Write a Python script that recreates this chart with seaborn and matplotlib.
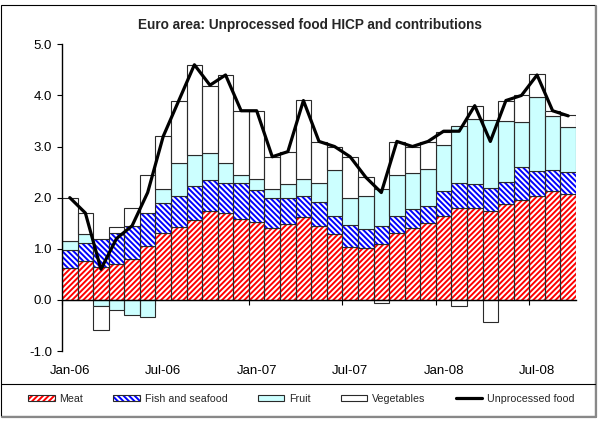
import numpy as np
import pandas as pd
import seaborn as sns
import matplotlib.pyplot as plt
from matplotlib.patches import Patch, Rectangle
from matplotlib.lines import Line2D

months = pd.date_range("2006-01-01", periods=33, freq="MS").strftime("%b-%y").tolist()

# contributions (percentage points)
meat = [0.63, 0.76, 0.65, 0.70, 0.80, 1.05, 1.31, 1.43, 1.57, 1.73, 1.70, 1.59,
        1.53, 1.40, 1.49, 1.62, 1.45, 1.28, 1.04, 1.02, 1.10, 1.31, 1.40, 1.51,
        1.65, 1.79, 1.79, 1.73, 1.87, 1.96, 2.04, 2.13, 2.08]
fish = [0.35, 0.35, 0.54, 0.61, 0.64, 0.64, 0.59, 0.60, 0.65, 0.61, 0.59, 0.70,
        0.62, 0.59, 0.51, 0.41, 0.46, 0.37, 0.43, 0.37, 0.34, 0.34, 0.37, 0.32,
        0.48, 0.50, 0.48, 0.46, 0.44, 0.64, 0.48, 0.42, 0.42]
fruit = [0.17, 0.17, -0.11, -0.20, -0.29, -0.33, 0.26, 0.64, 0.61, 0.54, 0.38, 0.15,
         0.22, 0.18, 0.26, 0.34, 0.37, 0.90, 0.53, 0.65, 0.72, 0.79, 0.72, 0.73,
         0.90, 1.12, 1.26, 1.33, 1.19, 0.88, 1.44, 1.04, 0.88]
vegetables = [0.84, 0.42, -0.48, 0.11, 0.36, 0.75, 1.04, 1.23, 1.77, 1.31, 1.73, 1.25,
              1.32, 0.63, 0.64, 1.54, 0.81, 0.44, 0.80, 0.37, -0.07, 0.65, 0.50, 0.53,
              0.26, -0.12, 0.26, -0.43, 0.40, 0.52, 0.45, 0.11, 0.23]
unprocessed = [2.0, 1.7, 0.6, 1.2, 1.45, 2.1, 3.2, 3.9, 4.6, 4.2, 4.4, 3.7,
               3.7, 2.8, 2.9, 3.9, 3.1, 3.0, 2.8, 2.4, 2.1, 3.1, 3.0, 3.1,
               3.3, 3.3, 3.8, 3.1, 3.9, 4.0, 4.4, 3.7, 3.6]

tick_pos = [0, 6, 12, 18, 24, 30]
tick_labels = [months[i] for i in tick_pos]

sns.set_style("white")
plt.rcParams["font.family"] = ["Liberation Sans", "DejaVu Sans"]
plt.rcParams["hatch.linewidth"] = 1.4

fig = plt.figure(figsize=(5.98, 4.21), dpi=100)
ax = fig.add_axes([62 / 598, 1 - 351 / 421, 514 / 598, (351 - 44.3) / 421])

x = np.arange(len(months))
layers = [
    ("Meat", meat, "white", "#FF0000", "/" * 6),
    ("Fish and seafood", fish, "white", "#0000FF", "\\" * 6),
    ("Fruit", fruit, "#CCFFFF", "none", None),
    ("Vegetables", vegetables, "white", "none", None),
]
outline = "#2a2a2a"

pos_base = np.zeros(len(x))
neg_base = np.zeros(len(x))
handles = []
for name, vals, face, hcol, hatch in layers:
    v = np.asarray(vals)
    bottom = np.where(v >= 0, pos_base, neg_base)
    sns.barplot(x=x, y=v, bottom=bottom, native_scale=True, width=1,
                color=face, saturation=1, errorbar=None,
                facecolor=face, edgecolor=hcol, hatch=hatch, linewidth=0, ax=ax)
    sns.barplot(x=x, y=v, bottom=bottom, native_scale=True, width=1,
                color=face, saturation=1, errorbar=None,
                facecolor="none", edgecolor=outline, linewidth=0.8, ax=ax)
    pos_base += np.clip(v, 0, None)
    neg_base += np.clip(v, None, 0)
    handles.append((Patch(facecolor=face, edgecolor=hcol, hatch=hatch, linewidth=0),
                    Patch(facecolor="none", edgecolor=outline, linewidth=0.8)))

sns.lineplot(x=x, y=unprocessed, color="black", linewidth=2.3, sort=False,
             ax=ax, zorder=4)
handles.append(Line2D([], [], color="black", linewidth=2.3))

ax.set_xlim(-0.5, len(x) - 0.5)
ax.set_ylim(-1, 5)
ax.set_yticks(np.arange(-1, 5.01, 1))
ax.set_yticklabels([f"{t:.1f}" for t in np.arange(-1, 5.01, 1)])
ax.set_xticks(tick_pos, tick_labels)
ax.set_xticks(np.array(tick_pos) - 0.5, minor=True)
ax.set_xlabel("")
ax.set_ylabel("")

for s in ["top", "right"]:
    ax.spines[s].set_visible(False)
ax.spines["left"].set_color("black")
ax.spines["left"].set_linewidth(1)
ax.spines["bottom"].set_position(("data", 0))
ax.spines["bottom"].set_color("black")
ax.spines["bottom"].set_linewidth(1)
ax.spines["bottom"].set_zorder(3)

ax.tick_params(axis="y", left=True, direction="out", length=3.6, width=0.8,
               color="black", labelsize=9.5, pad=3.5, labelcolor="black")
ax.tick_params(axis="x", which="major", bottom=True, length=0, labelsize=9.5,
               pad=47, labelcolor="black")
ax.tick_params(axis="x", which="minor", bottom=True, direction="out", length=3.6,
               width=0.8, color="black")

fig.text(310 / 598, 1 - 25 / 421, "Euro area: Unprocessed food HICP and contributions",
         ha="center", va="center", fontsize=9.8, fontweight="bold")

names = [l[0] for l in layers] + ["Unprocessed food"]
fig.legend(handles, names, loc="center left", bbox_to_anchor=(28 / 598, 1 - 399 / 421),
           ncol=5, frameon=False, fontsize=7.7, handlelength=2.5, handleheight=0.55,
           handletextpad=0.45, columnspacing=2.8, borderpad=0, borderaxespad=0)

# chart frame and legend box
fig.add_artist(Rectangle((1 / 598, 1 - 416 / 421), 594 / 598, 411 / 421,
                         transform=fig.transFigure, fill=False,
                         edgecolor="black", linewidth=0.8))
fig.add_artist(Line2D([2 / 598, 596 / 598], [1 - 416.5 / 421] * 2,
                      transform=fig.transFigure, color="#888888", linewidth=1.6))
fig.add_artist(Line2D([595.5 / 598] * 2, [1 - 416.5 / 421, 1 - 6 / 421],
                      transform=fig.transFigure, color="#888888", linewidth=1.6))
fig.add_artist(Line2D([1 / 598, 595 / 598], [1 - 384 / 421] * 2,
                      transform=fig.transFigure, color="black", linewidth=0.8))

fig.savefig("out.png", dpi=100)
